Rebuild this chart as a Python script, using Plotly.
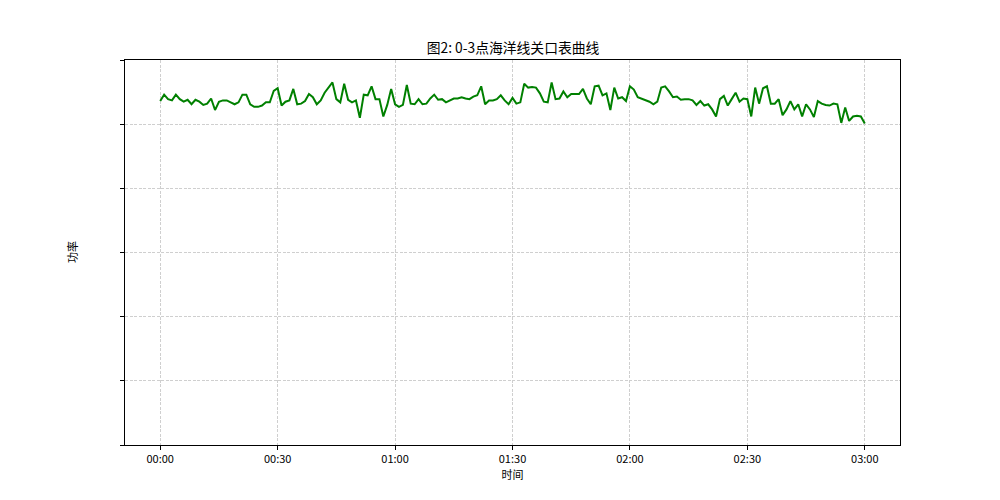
import plotly.graph_objects as go
import pandas as pd

title_text = "图2: 0-3点海洋线关口表曲线"
x_label = "时间"
y_label = "功率"

start_time = "2024-01-01 00:00"
minutes = list(range(0, 181))
power = [
    53.6, 54.6, 53.9, 53.7, 54.6, 53.9, 53.5, 53.8, 53.1, 53.8,
    53.5, 53.0, 53.2, 54.0, 52.2, 53.5, 53.7, 53.7, 53.4, 53.1,
    53.4, 54.6, 54.6, 53.1, 52.7, 52.7, 52.9, 53.4, 53.4, 55.2,
    55.6, 52.9, 53.5, 53.7, 55.5, 53.1, 53.2, 53.6, 54.7, 54.2,
    53.1, 53.7, 54.9, 55.8, 56.5, 53.9, 53.4, 56.3, 53.8, 53.4,
    53.7, 51.0, 54.6, 54.5, 55.9, 53.9, 53.9, 51.2, 53.0, 55.5,
    53.1, 52.7, 53.0, 56.1, 53.2, 53.1, 53.9, 53.1, 53.2, 54.0,
    54.6, 53.8, 53.9, 53.4, 53.7, 54.0, 54.0, 54.2, 54.0, 53.9,
    54.3, 54.5, 55.9, 53.1, 53.7, 53.7, 53.9, 54.5, 53.7, 53.1,
    54.1, 53.2, 53.4, 56.3, 55.7, 55.8, 55.7, 54.8, 53.5, 53.4,
    56.5, 53.9, 54.0, 55.1, 54.2, 54.7, 54.7, 54.7, 55.5, 54.0,
    53.1, 55.9, 56.0, 54.5, 54.8, 52.2, 55.7, 54.0, 54.2, 53.6,
    55.9, 55.4, 54.2, 54.0, 53.7, 53.5, 53.1, 53.5, 55.7, 55.9,
    55.1, 54.2, 54.3, 53.8, 53.9, 53.9, 53.7, 53.0, 53.6, 52.9,
    53.1, 52.3, 51.2, 53.9, 54.4, 52.9, 53.9, 54.9, 53.5, 54.0,
    53.9, 51.2, 55.7, 53.2, 55.6, 55.9, 53.2, 53.2, 53.9, 51.4,
    52.3, 53.6, 52.3, 53.1, 51.2, 53.1, 52.3, 51.1, 53.6, 53.2,
    53.0, 52.9, 53.2, 53.1, 50.2, 52.6, 50.5, 51.2, 51.3, 51.2,
    50.1,
]
y_ticks = [0, 10, 20, 30, 40, 50, 60]

t0 = pd.Timestamp(start_time)
times = [t0 + pd.Timedelta(minutes=m) for m in minutes]

fig = go.Figure()
fig.add_trace(go.Scatter(
    x=times, y=power, mode="lines",
    line=dict(color="#008000", width=2),
    hoverinfo="skip", showlegend=False,
))

font_family = "Noto Sans CJK SC, DejaVu Sans, sans-serif"

fig.update_layout(
    width=1000, height=500,
    margin=dict(l=117, r=108, t=52, b=63),
    paper_bgcolor="white", plot_bgcolor="white",
    font=dict(family=font_family, size=11, color="black"),
    title=dict(text=title_text, x=0.505, xanchor="center", y=0.92, yanchor="middle",
               font=dict(size=13.8, family=font_family, color="black")),
    showlegend=False,
)

grid_style = dict(showgrid=True, gridcolor="#cfcfcf", griddash="3px,1.5px", gridwidth=0.8)

fig.update_xaxes(
    range=[t0 - pd.Timedelta(minutes=9), t0 + pd.Timedelta(minutes=189)],
    tickmode="array",
    tickvals=[t0 + pd.Timedelta(minutes=m) for m in range(0, 181, 30)],
    tickformat="%H:%M",
    ticks="outside", ticklen=4, tickcolor="black", tickwidth=1,
    showline=True, linecolor="black", linewidth=1, mirror=True,
    zeroline=False,
    title=dict(text=x_label, font=dict(size=11, family=font_family), standoff=4),
    tickfont=dict(size=11, family=font_family),
    **grid_style,
)
fig.update_yaxes(
    range=[0, 60],
    tickmode="array", tickvals=y_ticks,
    showticklabels=False,
    ticks="outside", ticklen=4, tickcolor="black", tickwidth=1,
    showline=True, linecolor="black", linewidth=1, mirror=True,
    zeroline=False,
    **grid_style,
)

fig.add_annotation(
    text=y_label, xref="paper", yref="paper", x=-0.069, y=0.5,
    xanchor="center", yanchor="middle", textangle=-90, showarrow=False,
    font=dict(size=11, family=font_family, color="black"),
)

fig.write_html("out.html")
